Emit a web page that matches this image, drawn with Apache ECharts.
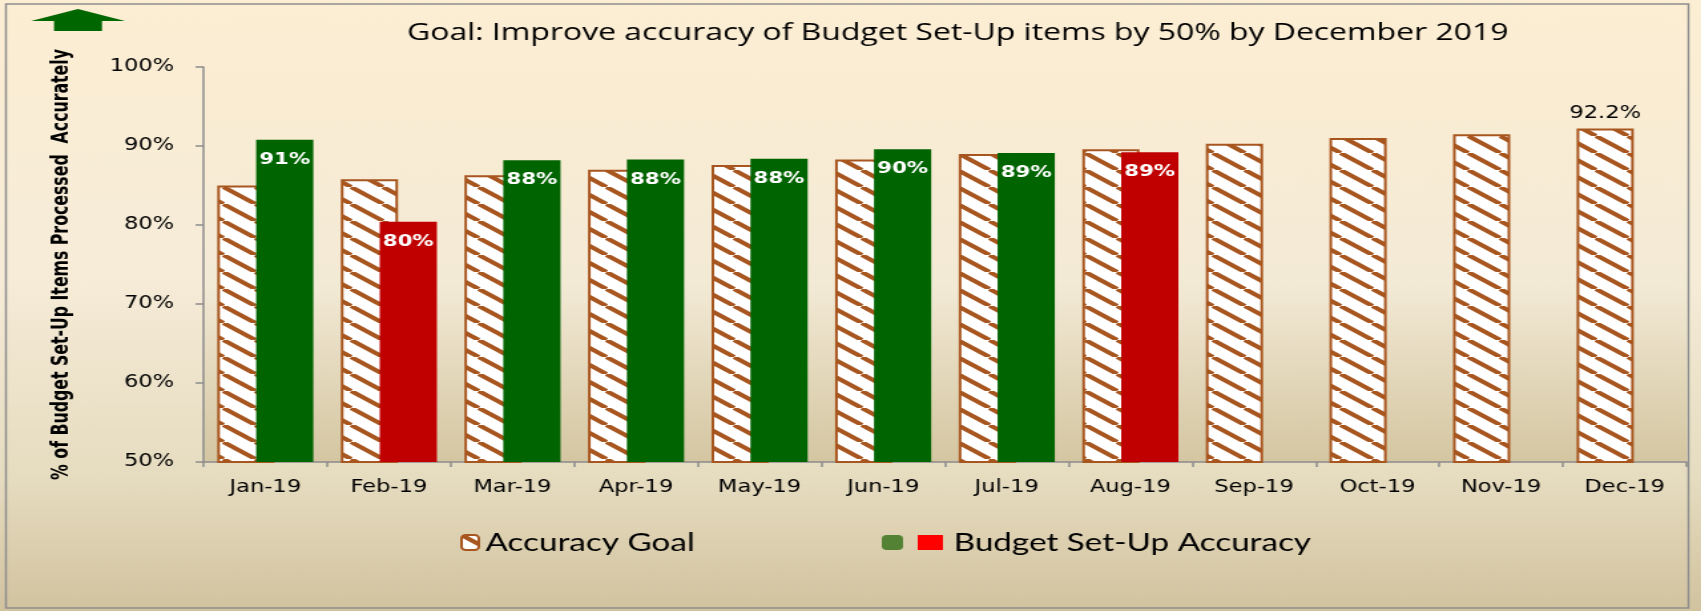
<!DOCTYPE html>
<html>
<head>
<meta charset="utf-8">
<script src="https://cdn.jsdelivr.net/npm/echarts@6/dist/echarts.min.js"></script>
<style>
	html, body { margin: 0; padding: 0; overflow: hidden; background: #fff; }
	/* the original picture is stretched sideways, so draw narrow and stretch the same way */
	#main { width: 1279px; height: 611px; transform: scaleX(1.33); transform-origin: 0 0; }
</style>
</head>
<body>
<div id="main"></div>
<script>
var months = ['Jan-19', 'Feb-19', 'Mar-19', 'Apr-19', 'May-19', 'Jun-19', 'Jul-19', 'Aug-19', 'Sep-19', 'Oct-19', 'Nov-19', 'Dec-19'];
var goalValues = [85.0, 85.8, 86.3, 87.0, 87.6, 88.3, 89.0, 89.6, 90.3, 91.0, 91.5, 92.2];
var actualValues = [90.8, 80.4, 88.2, 88.3, 88.4, 89.6, 89.1, 89.2, null, null, null, null];
var yTicks = [50, 60, 70, 80, 90, 100];

var BROWN = '#A8561F';
var GREEN = '#006400';
var RED = '#C00000';

// hatch tile for the goal bars
function hatch() {
	var w = 24, h = 17;
	var c = document.createElement('canvas');
	c.width = w;
	c.height = h;
	var ctx = c.getContext('2d');
	ctx.fillStyle = '#fff';
	ctx.fillRect(0, 0, w, h);
	ctx.strokeStyle = BROWN;
	ctx.lineWidth = 4;
	for (var i = -1; i <= 1; i++) {
		ctx.beginPath();
		ctx.moveTo(i * w, 0);
		ctx.lineTo(i * w + w, h);
		ctx.stroke();
	}
	return c;
}

var myChart = echarts.init(document.getElementById('main'));
var option = {
	animation: false,
	backgroundColor: {
		type: 'linear', x: 0, y: 0, x2: 0, y2: 1,
		colorStops: [
			{offset: 0, color: '#FCEED3'},
			{offset: 0.45, color: '#F6ECD8'},
			{offset: 0.78, color: '#E6DCC0'},
			{offset: 1, color: '#D2C39F'}
		]
	},
	title: {
		text: 'Goal: Improve accuracy of Budget Set-Up items by 50% by December 2019',
		left: 301,
		top: 16,
		textStyle: {fontFamily: 'Open Sans', fontWeight: 'normal', fontSize: 24, color: '#000'}
	},
	legend: [{
		left: 341,
		top: 525,
		itemWidth: 13,
		itemHeight: 15,
		data: ['Accuracy Goal'],
		textStyle: {fontFamily: 'Lato', fontSize: 25, color: '#000'}
	}, {
		left: 658,
		top: 525,
		itemWidth: 16,
		itemHeight: 15,
		data: [{name: 'Budget Set-Up Accuracy', itemStyle: {color: '#548235'}}],
		formatter: function(name) {
			return '{s|}{r|}{t|' + name + '}';
		},
		textStyle: {
			fontFamily: 'Lato', fontSize: 25, color: '#000',
			rich: {
				s: {width: 6, height: 15},
				r: {width: 19, height: 15, backgroundColor: '#FF0000'},
				t: {fontFamily: 'Lato', fontSize: 25, color: '#000', padding: [0, 0, 0, 8]}
			}
		}
	}],
	grid: {
		left: 153,
		right: 11,
		top: 67,
		bottom: 149,
		show: true,
		borderWidth: 0,
		backgroundColor: {
			type: 'linear', x: 0, y: 0, x2: 0, y2: 1,
			colorStops: [
				{offset: 0, color: '#FBEDD3'},
				{offset: 0.55, color: '#F3EAD6'},
				{offset: 1, color: '#D4C6A1'}
			]
		}
	},
	xAxis: {
		type: 'category',
		data: months,
		axisLine: {lineStyle: {color: '#8C8C8C', width: 1.5}},
		axisTick: {show: true, length: 5, interval: 0, lineStyle: {color: '#8C8C8C', width: 1.5}},
		axisLabel: {margin: 17, fontFamily: 'DejaVu Sans', fontSize: 17, color: '#000'}
	},
	yAxis: {
		type: 'value',
		min: yTicks[0],
		max: yTicks[yTicks.length - 1],
		interval: 10,
		name: '% of Budget Set-Up Items Processed  Accurately',
		nameLocation: 'middle',
		nameRotate: 90,
		nameGap: 98,
		nameTextStyle: {fontFamily: "'DejaVu Sans Condensed', 'Roboto Condensed', 'Liberation Sans', sans-serif", fontWeight: 'bold', fontSize: 17.5, color: '#000'},
		splitLine: {show: false},
		axisLine: {show: true, lineStyle: {color: '#8C8C8C', width: 1.5}},
		axisTick: {show: true, length: 6, lineStyle: {color: '#8C8C8C', width: 1.5}},
		axisLabel: {margin: 22, fontFamily: 'DejaVu Sans', fontSize: 17, color: '#000', formatter: '{value}%'}
	},
	graphic: [{
		type: 'rect',
		shape: {x: 4.5, y: 4, width: 1265, height: 604},
		style: {fill: null, stroke: '#8E8E8E', lineWidth: 1.5},
		silent: true
	}, {
		type: 'polygon',
		shape: {points: [[58.6, 9], [94, 21], [76.7, 21], [76.7, 31], [40.6, 31], [40.6, 21], [23.3, 21]]},
		style: {fill: '#006600'},
		silent: true
	}],
	series: [{
		name: 'Accuracy Goal',
		type: 'bar',
		data: goalValues,
		barWidth: 43,
		barGap: '-32%',
		itemStyle: {
			color: {image: hatch(), repeat: 'repeat'},
			borderColor: BROWN,
			borderWidth: 2
		},
		label: {
			show: true,
			position: 'top',
			distance: 7,
			fontFamily: 'DejaVu Sans',
			fontSize: 17,
			color: '#000',
			formatter: function(p) {
				return p.dataIndex === goalValues.length - 1 ? p.value.toFixed(1) + '%' : '';
			}
		}
	}, {
		name: 'Budget Set-Up Accuracy',
		type: 'bar',
		data: actualValues,
		barWidth: 43,
		itemStyle: {
			color: function(p) {
				return p.value < goalValues[p.dataIndex] ? RED : GREEN;
			}
		},
		label: {
			show: true,
			position: 'insideTop',
			distance: 12,
			fontFamily: 'DejaVu Sans',
			fontWeight: 'bold',
			fontSize: 16,
			color: '#fff',
			formatter: function(p) {
				return Math.round(p.value) + '%';
			}
		}
	}]
};
myChart.setOption(option);
</script>
</body>
</html>
